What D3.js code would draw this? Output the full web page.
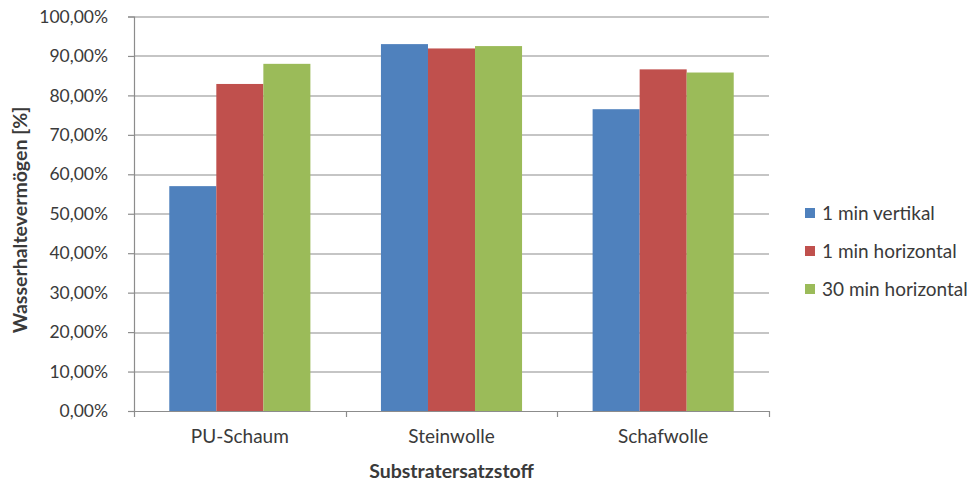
<!DOCTYPE html>
<html>
<head>
<meta charset="utf-8">
<script src="https://cdn.jsdelivr.net/npm/d3@7"></script>
<style>
  body { margin: 0; background: #fff; }
  text { font-family: Lato, "Open Sans", sans-serif; fill: #3a3a3a; }
</style>
</head>
<body>
<div id="chart"></div>
<script>
// chart data
var categories = ["PU-Schaum", "Steinwolle", "Schafwolle"];
var seriesNames = ["1 min vertikal", "1 min horizontal", "30 min horizontal"];
var vertikal1 = [0.570, 0.930, 0.765];
var horizontal1 = [0.829, 0.919, 0.866];
var horizontal30 = [0.880, 0.925, 0.858];
var yTicks = [0, 0.1, 0.2, 0.3, 0.4, 0.5, 0.6, 0.7, 0.8, 0.9, 1.0];
var colors = ["#4F81BD", "#C0504D", "#9BBB59"];

var seriesValues = [vertikal1, horizontal1, horizontal30];

var svgWidth = 977, svgHeight = 483;
var margin = { top: 16.5, right: 208, bottom: 72, left: 134 };
var width = svgWidth - margin.left - margin.right;
var height = svgHeight - margin.top - margin.bottom;

var svg = d3.select("#chart")
  .append("svg")
  .attr("width", svgWidth)
  .attr("height", svgHeight);

var chartGroup = svg.append("g")
  .attr("transform", `translate(${margin.left}, ${margin.top})`);

// scales
var x0 = d3.scaleBand()
  .domain(categories)
  .range([0, width]);

// gap width 150% -> bars take 3/4.5 of each band
var x1 = d3.scaleBand()
  .domain(seriesNames)
  .range([x0.bandwidth() * 0.75 / 4.5, x0.bandwidth() - x0.bandwidth() * 0.75 / 4.5]);

var y = d3.scaleLinear()
  .domain([0, 1])
  .range([height, 0]);

var fmt = function(d) { return d3.format(".2f")(d * 100).replace(".", ",") + "%"; };

// gridlines
chartGroup.append("g")
  .selectAll("line")
  .data(yTicks.slice(1))
  .enter()
  .append("line")
  .attr("x1", 0)
  .attr("x2", width)
  .attr("y1", d => Math.round(y(d)) + 0.5)
  .attr("y2", d => Math.round(y(d)) + 0.5)
  .attr("stroke", "#8c8c8c")
  .attr("stroke-width", 1.2);

// bars
var groups = chartGroup.selectAll(".cat")
  .data(categories)
  .enter()
  .append("g")
  .attr("transform", d => `translate(${x0(d)}, 0)`);

groups.selectAll("rect")
  .data((d, i) => seriesNames.map((s, j) => ({ s: s, v: seriesValues[j][i], c: colors[j] })))
  .enter()
  .append("rect")
  .attr("x", d => x1(d.s))
  .attr("width", x1.bandwidth())
  .attr("y", d => y(d.v))
  .attr("height", d => height - y(d.v))
  .attr("fill", d => d.c);

// y axis
var leftAxis = d3.axisLeft(y)
  .tickValues(yTicks)
  .tickFormat(fmt)
  .tickSize(6)
  .tickPadding(20);

var yAxis = chartGroup.append("g").call(leftAxis);
yAxis.select(".domain").attr("stroke", "#8c8c8c").attr("stroke-width", 1.2);
yAxis.selectAll(".tick line").attr("stroke", "#8c8c8c").attr("stroke-width", 1.2);
yAxis.selectAll("text").style("font-size", "17.5px").style("fill", "#3a3a3a")
  .style("font-family", "Lato, sans-serif");

// x axis
var xAxis = chartGroup.append("g")
  .attr("transform", `translate(0, ${height})`);
xAxis.append("line")
  .attr("x1", 0).attr("x2", width)
  .attr("y1", 0.5).attr("y2", 0.5)
  .attr("stroke", "#8c8c8c")
  .attr("stroke-width", 1.2);
xAxis.selectAll(".xtick")
  .data(d3.range(categories.length + 1))
  .enter()
  .append("line")
  .attr("x1", i => Math.round(i * x0.step()) + 0.5)
  .attr("x2", i => Math.round(i * x0.step()) + 0.5)
  .attr("y1", 0)
  .attr("y2", 6)
  .attr("stroke", "#8c8c8c")
  .attr("stroke-width", 1.2);
xAxis.selectAll(".xlabel")
  .data(categories)
  .enter()
  .append("text")
  .attr("x", d => x0(d) + x0.bandwidth() / 2)
  .attr("y", 32)
  .attr("text-anchor", "middle")
  .style("font-size", "19px")
  .text(d => d);

// axis titles
svg.append("text")
  .attr("x", margin.left + width / 2)
  .attr("y", 478)
  .attr("text-anchor", "middle")
  .style("font-size", "19.5px")
  .style("font-weight", "bold")
  .text("Substratersatzstoff");

svg.append("text")
  .attr("transform", "rotate(-90)")
  .attr("x", -220)
  .attr("y", 27)
  .attr("text-anchor", "middle")
  .style("font-size", "19.5px")
  .style("font-weight", "bold")
  .text("Wasserhaltevermögen [%]");

// legend
var legend = svg.append("g")
  .attr("transform", "translate(805, 213)");
var items = legend.selectAll("g")
  .data(seriesNames)
  .enter()
  .append("g")
  .attr("transform", (d, i) => `translate(0, ${i * 38})`);
items.append("rect")
  .attr("x", 0).attr("y", -5)
  .attr("width", 10).attr("height", 10)
  .attr("fill", (d, i) => colors[i]);
items.append("text")
  .attr("x", 17)
  .attr("y", 7)
  .style("font-size", "19px")
  .text(d => d);
</script>
</body>
</html>
